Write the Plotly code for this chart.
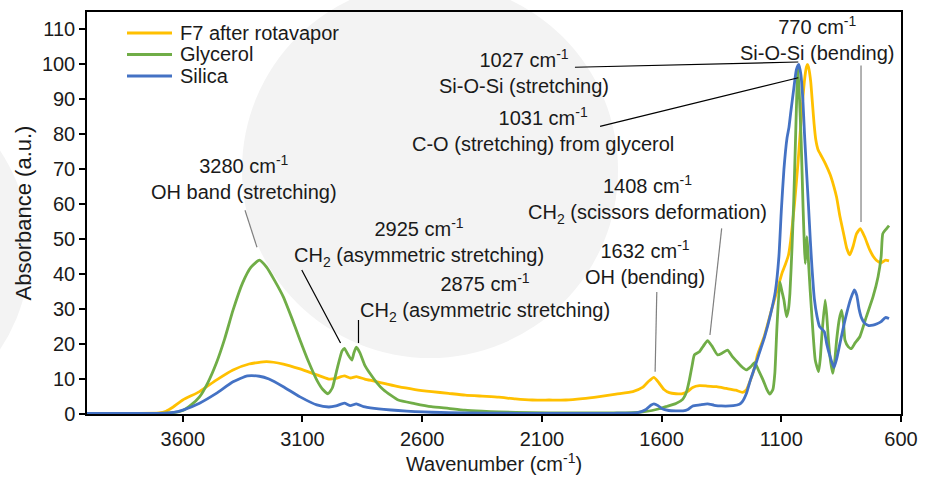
import plotly.graph_objects as go

# ---- FTIR spectra (wavenumber in cm-1, absorbance normalised to 100) ----
f7_wn = [4000, 3800, 3700, 3670, 3640, 3600, 3530, 3460, 3390, 3323, 3250, 3180, 3110, 3040,
         2990, 2960, 2925, 2900, 2875, 2840, 2800, 2750, 2700, 2630, 2560, 2490, 2420, 2350,
         2280, 2210, 2140, 2070, 2000, 1930, 1860, 1790, 1720, 1680, 1655, 1632, 1610, 1590,
         1568, 1540, 1512, 1490, 1470, 1442, 1410, 1370, 1330, 1290, 1262, 1245, 1230, 1215,
         1199, 1170, 1144, 1117, 1096, 1082, 1070, 1061, 1045, 1030, 1015, 1003, 995, 990,
         984, 977, 970, 963, 956, 946, 930, 915, 896, 880, 869, 855, 841, 827, 814, 800, 786,
         770, 752, 731, 717, 703, 683, 665, 650]
f7_abs = [0.2, 0.2, 0.3, 0.8, 2.0, 4.0, 6.4, 9.7, 12.6, 14.3, 15.0, 14.3, 12.9, 11.2,
          10.0, 10.2, 10.9, 10.3, 10.7, 10.0, 9.4, 8.6, 7.8, 7.0, 6.4, 5.9, 5.4, 5.1,
          4.8, 4.3, 4.0, 4.0, 4.0, 4.4, 5.0, 5.7, 6.4, 7.6, 9.3, 10.5, 8.8, 7.0,
          6.1, 5.8, 5.8, 6.5, 7.6, 8.1, 8.0, 7.8, 7.3, 6.8, 6.2, 7.0, 9.5, 12.5,
          17.0, 22.5, 29.0, 35.5, 40.5, 43.0, 45.5, 49.5, 60.0, 72.0, 86.0, 95.5, 99.3, 100.0,
          98.5, 95.0, 89.0, 83.0, 78.5, 75.5, 73.5, 71.5, 68.5, 65.0, 62.0, 56.5, 52.0, 47.5,
          45.5, 48.0, 51.5, 53.0, 50.7, 47.0, 45.2, 44.0, 43.2, 44.0, 43.8]

gly_wn = [4000, 3800, 3700, 3650, 3600, 3565, 3530, 3495, 3460, 3425, 3390, 3350, 3315, 3280,
          3250, 3215, 3180, 3145, 3110, 3075, 3040, 3015, 2993, 2975, 2955, 2935, 2925, 2910,
          2894, 2885, 2875, 2860, 2840, 2817, 2790, 2763, 2730, 2700, 2632, 2562, 2490, 2422,
          2350, 2282, 2140, 2000, 1850, 1722, 1680, 1640, 1610, 1582, 1540, 1512, 1495, 1484,
          1472, 1463, 1442, 1425, 1408, 1390, 1366, 1345, 1324, 1305, 1288, 1265, 1246, 1228,
          1211, 1195, 1176, 1160, 1148, 1135, 1127, 1118, 1106, 1097, 1089, 1078, 1070, 1064,
          1055, 1048, 1040, 1035, 1031, 1025, 1017, 1009, 1004, 1000, 996, 993, 989, 986, 979,
          972, 958, 944, 937, 930, 917, 910, 903, 894, 885, 877, 869, 858, 848, 840, 834, 820,
          807, 793, 772, 745, 717, 696, 683, 676, 662, 650]
gly_abs = [0.2, 0.2, 0.2, 0.3, 1.0, 2.6, 4.9, 9.0, 14.5, 21.5, 29.7, 37.5, 42.0, 44.0,
           42.0, 38.0, 33.5, 27.5, 21.1, 15.0, 9.7, 7.0, 5.8, 7.5, 13.0, 18.0, 18.8, 17.0,
           15.4, 17.5, 19.1, 17.5, 14.0, 11.5, 9.0, 7.0, 5.3, 4.0, 3.0, 2.1, 1.6, 1.1,
           0.8, 0.6, 0.4, 0.3, 0.3, 0.4, 0.6, 1.0, 1.5, 2.1, 3.0, 4.2, 6.5, 9.7,
           14.0, 16.9, 17.8, 19.5, 21.0, 19.5, 16.9, 17.5, 18.3, 16.5, 15.2, 13.5, 12.6, 13.5,
           14.7, 12.5, 9.7, 7.0, 5.7, 7.0, 11.6, 25.0, 37.8, 35.0, 32.6, 27.8, 30.0, 34.5,
           48.0, 61.0, 80.0, 92.0, 99.0, 92.0, 78.0, 59.0, 48.8, 43.0, 47.0, 50.7, 47.0, 43.0, 35.0,
           27.8, 15.4, 12.1, 16.0, 23.0, 32.6, 28.0, 21.1, 15.0, 11.6, 15.0, 21.1, 27.0, 29.7, 26.0, 21.1, 19.2,
           18.7, 20.2, 22.1, 27.8, 33.5, 39.2, 45.0, 51.6, 52.9, 53.9]

sil_wn = [4000, 3800, 3700, 3660, 3620, 3600, 3530, 3460, 3390, 3330, 3280, 3240, 3180, 3110,
          3040, 2990, 2960, 2925, 2900, 2875, 2845, 2800, 2760, 2700, 2630, 2560, 2420, 2200,
          2000, 1800, 1700, 1665, 1645, 1632, 1615, 1600, 1570, 1540, 1510, 1490, 1470, 1440,
          1408, 1380, 1350, 1300, 1275, 1262, 1245, 1229, 1210, 1194, 1170, 1144, 1125, 1110,
          1100, 1089, 1076, 1068, 1061, 1048, 1037, 1027, 1018, 1010, 1003, 995, 986, 979, 972,
          962, 951, 940, 930, 920, 910, 896, 880, 868, 855, 840, 827, 810, 795, 785, 775, 765,
          752, 735, 717, 700, 683, 665, 650]
sil_abs = [0.2, 0.2, 0.2, 0.3, 0.7, 1.1, 3.1, 5.9, 9.2, 10.9, 10.8, 10.0, 7.8, 4.9,
           2.6, 2.0, 2.3, 3.1, 2.4, 2.9, 2.1, 1.6, 1.3, 1.0, 0.7, 0.5, 0.3, 0.2,
           0.2, 0.2, 0.4, 1.3, 2.5, 2.9, 2.4, 1.6, 1.0, 0.9, 0.9, 1.3, 2.3, 2.6,
           2.9, 2.5, 2.3, 2.4, 2.8, 3.6, 6.0, 9.7, 13.5, 17.0, 22.0, 28.8, 35.0, 45.0,
           58.0, 70.0, 79.0, 82.0, 86.0, 93.0, 98.5, 100.0, 97.0, 90.0, 80.0, 70.0, 59.0, 50.0, 42.0,
           33.0, 28.0, 25.0, 24.3, 23.5, 20.0, 16.4, 13.3, 16.0, 20.2, 25.0, 28.8, 33.0, 35.5, 34.0, 30.0, 27.5,
           26.0, 25.3, 25.4, 25.8, 26.4, 27.6, 27.3]

series_names = ["F7 after rotavapor", "Glycerol", "Silica"]
series_colors = ["#FFC000", "#70AD47", "#4472C4"]

x_ticks = [3600, 3100, 2600, 2100, 1600, 1100, 600]

# band labels: (two-line text, anchor wavenumber, anchor absorbance)
band_labels = [
    ("3280 cm<sup>-1</sup><br>OH band (stretching)", 3344, 67.7),
    ("2925 cm<sup>-1</sup><br>CH<sub>2</sub> (asymmetric stretching)", 2613, 49.1),
    ("2875 cm<sup>-1</sup><br>CH<sub>2</sub> (asymmetric stretching)", 2338, 33.4),
    ("1632 cm<sup>-1</sup><br>OH (bending)", 1669, 43.3),
    ("1408 cm<sup>-1</sup><br>CH<sub>2</sub> (scissors deformation)", 1657, 61.3),
    ("1027 cm<sup>-1</sup><br>Si-O-Si (stretching)", 2175, 98.0),
    ("1031 cm<sup>-1</sup><br>C-O (stretching) from glycerol", 2095, 81.4),
    ("770 cm<sup>-1</sup><br>Si-O-Si (bending)", 949, 107.3),
]

# leader lines from each label to its band: (x0, y0, x1, y1, colour)
leaders = [
    (3340, 58.3, 3290, 47.7, "#7f7f7f"),
    (3103, 41.2, 2941, 20.3, "#000000"),
    (2866, 26.9, 2866, 20.3, "#000000"),
    (1620, 34.9, 1627, 12.1, "#7f7f7f"),
    (1349, 53.1, 1398, 22.6, "#7f7f7f"),
    (1962, 99.2, 1029, 100.7, "#000000"),
    (1857, 82.3, 1029, 96.2, "#000000"),
    (767, 99.7, 767, 54.9, "#7f7f7f"),
]

FONT = "Arial, 'Liberation Sans', sans-serif"
TXT = "#1a1a1a"

# plot-area geometry in page pixels, used for paper-referenced decorations
PL, PR, PT, PB = 87, 901, 12, 414


def px(x):
    return (x - PL) / (PR - PL)


def py(y):
    return (PB - y) / (PB - PT)


fig = go.Figure()
for name, color, wn, ab in zip(series_names, series_colors,
                               [f7_wn, gly_wn, sil_wn], [f7_abs, gly_abs, sil_abs]):
    fig.add_trace(go.Scatter(
        x=wn, y=ab, mode="lines", name=name, showlegend=False,
        line=dict(color=color, width=2.8, shape="spline", smoothing=0.5),
    ))

annotations = []
for txt, xx, yy in band_labels:
    annotations.append(dict(
        x=xx, y=yy, xref="x", yref="y", text=txt, showarrow=False,
        xanchor="center", yanchor="middle", align="center", borderpad=0,
        font=dict(family=FONT, size=20, color=TXT),
    ))

shapes = []
# soft grey discs in the page background
for cx, cy, r in [(430, 170, 188), (-150, 250, 180)]:
    shapes.append(dict(
        type="circle", xref="paper", yref="paper", layer="below",
        x0=px(cx - r), x1=px(cx + r), y0=py(cy + r), y1=py(cy - r),
        fillcolor="#f3f3f3", line=dict(width=0),
    ))
for x0, y0, x1, y1, c in leaders:
    shapes.append(dict(type="line", xref="x", yref="y", x0=x0, y0=y0, x1=x1, y1=y1,
                       line=dict(color=c, width=1.2)))

# legend: short coloured line plus series name, stacked top-left inside the frame
for i, (name, color) in enumerate(zip(series_names, series_colors)):
    row_y = 33 + i * 21.5
    shapes.append(dict(type="line", xref="paper", yref="paper",
                       x0=px(127), x1=px(172), y0=py(row_y), y1=py(row_y),
                       line=dict(color=color, width=2.8)))
    annotations.append(dict(
        x=px(179), y=py(row_y), xref="paper", yref="paper", text=name,
        showarrow=False, xanchor="left", yanchor="middle", borderpad=0,
        font=dict(family=FONT, size=20, color=TXT),
    ))

fig.update_layout(
    width=935, height=478,
    margin=dict(l=PL, r=935 - PR, t=PT, b=478 - PB),
    paper_bgcolor="white", plot_bgcolor="rgba(0,0,0,0)",
    font=dict(family=FONT, size=20, color=TXT),
    showlegend=False,
    annotations=annotations,
    shapes=shapes,
)
fig.update_xaxes(
    range=[4000, 600], tickmode="array", tickvals=x_ticks,
    ticktext=[str(v) for v in x_ticks], automargin=False,
    ticks="outside", ticklen=6, tickwidth=1.5, tickcolor="black",
    showline=True, linecolor="black", linewidth=1.5, mirror=True,
    showgrid=False, zeroline=False,
    tickfont=dict(family=FONT, size=20, color=TXT),
    title=dict(text="Wavenumber (cm<sup>-1</sup>)", font=dict(family=FONT, size=20, color=TXT),
               standoff=8),
)
fig.update_yaxes(
    range=[0, 115], tick0=0, dtick=10, automargin=False,
    ticks="outside", ticklen=6, tickwidth=1.5, tickcolor="black",
    showline=True, linecolor="black", linewidth=1.5, mirror=True,
    showgrid=False, zeroline=False,
    tickfont=dict(family=FONT, size=20, color=TXT),
    title=dict(text="Absorbance (a.u.)", font=dict(family=FONT, size=22, color=TXT),
               standoff=4),
)

fig.write_html("out.html")
